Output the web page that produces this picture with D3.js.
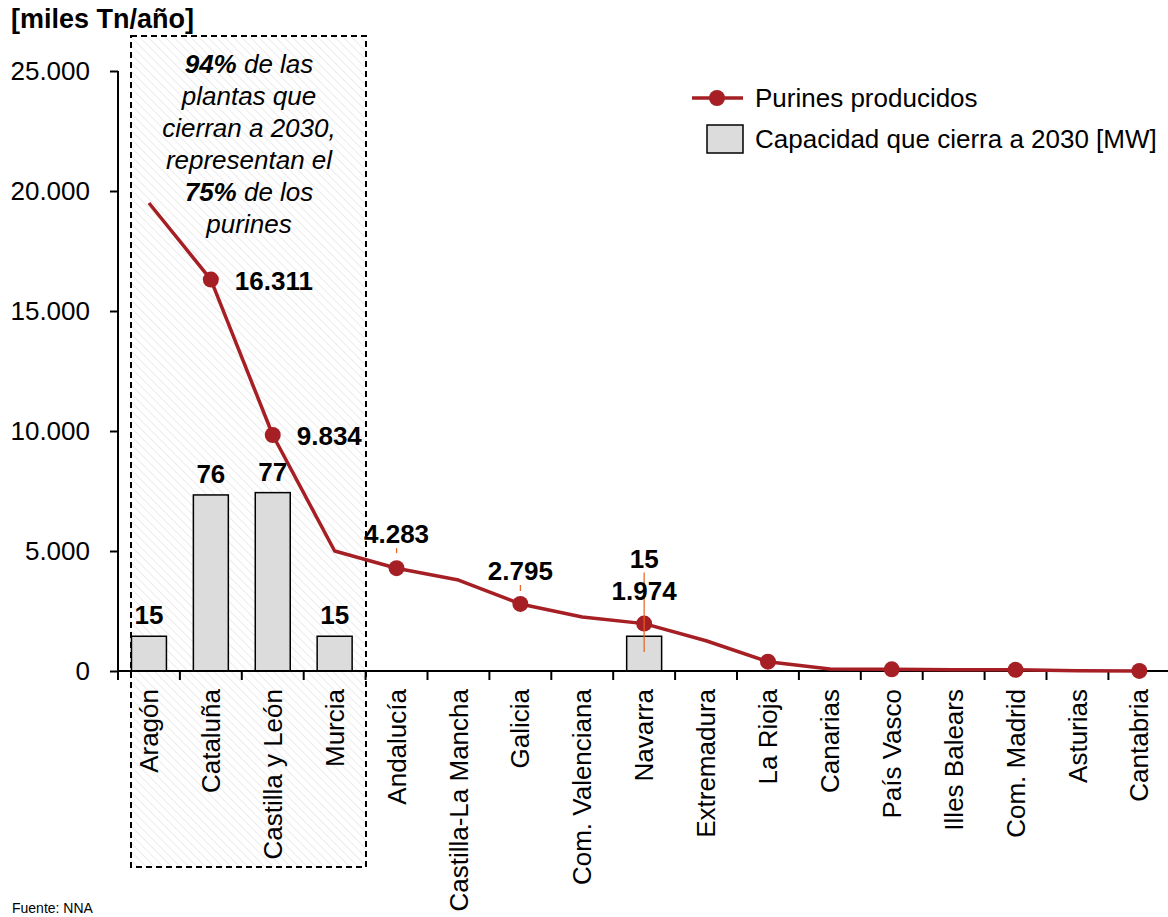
<!DOCTYPE html>
<html>
<head>
<meta charset="utf-8">
<title>Purines producidos</title>
<script src="https://cdn.jsdelivr.net/npm/d3@7"></script>
<style>
	body { margin: 0; background: #fff; }
	svg text { font-family: "Liberation Sans", Arial, sans-serif; fill: #000; }
</style>
</head>
<body>
<div id="chart"></div>
<script>
	// data
	var regiones = ['Aragón', 'Cataluña', 'Castilla y León', 'Murcia', 'Andalucía', 'Castilla-La Mancha',
		'Galicia', 'Com. Valenciana', 'Navarra', 'Extremadura', 'La Rioja', 'Canarias', 'País Vasco',
		'Illes Balears', 'Com. Madrid', 'Asturias', 'Cantabria'];
	var purines = [19500, 16311, 9834, 5000, 4283, 3790, 2795, 2250, 1974, 1260, 390, 80, 70, 50, 50, 15, 5];
	var capacidad = [15, 76, 77, 15, null, null, null, null, 15, null, null, null, null, null, null, null, null];
	var conMarcador = [false, true, true, false, true, false, true, false, true, false, true, false, true, false, true, false, true];
	var yTicks = [0, 5000, 10000, 15000, 20000, 25000];

	var width = 1168, height = 917;
	var es = d3.formatLocale({ decimal: ',', thousands: '.', grouping: [3], currency: ['', '€'] });
	var fmt = es.format(',d');
	var rojo = '#a51f24', naranja = '#e8601c';
	var fs = '26px';

	var svg = d3.select('#chart').append('svg')
		.attr('width', width)
		.attr('height', height);

	// hatch for the highlight box
	var pat = svg.append('defs').append('pattern')
		.attr('id', 'rayado')
		.attr('patternUnits', 'userSpaceOnUse')
		.attr('width', 6).attr('height', 6)
		.attr('patternTransform', 'rotate(-45)');
	pat.append('line')
		.attr('x1', 0).attr('y1', 0).attr('x2', 0).attr('y2', 6)
		.attr('stroke', '#ececec').attr('stroke-width', 2);

	var x = d3.scaleBand().domain(regiones).range([118, 118 + 17 * 61.9]);
	var y = d3.scaleLinear().domain([0, 25000]).range([671, 71]);
	var y2 = d3.scaleLinear().domain([0, 259]).range([671, 71]);
	var barW = x.bandwidth() * 0.565;
	var cx = function(d) { return x(d) + x.bandwidth() / 2; };

	// highlight box behind everything
	svg.append('rect')
		.attr('x', 131).attr('y', 36)
		.attr('width', 235).attr('height', 831)
		.attr('fill', 'url(#rayado)')
		.attr('stroke', '#000')
		.attr('stroke-width', 2)
		.attr('stroke-dasharray', '6,4');

	// bars
	svg.selectAll('rect.bar')
		.data(regiones.filter(function(d, i) { return capacidad[i] != null; }))
		.enter().append('rect')
		.attr('class', 'bar')
		.attr('x', function(d) { return cx(d) - barW / 2; })
		.attr('y', function(d) { return y2(capacidad[regiones.indexOf(d)]); })
		.attr('width', barW)
		.attr('height', function(d) { return y2(0) - y2(capacidad[regiones.indexOf(d)]); })
		.attr('fill', '#dcdcdc')
		.attr('stroke', '#000')
		.attr('stroke-width', 1.5);

	// y axis
	var yAxis = svg.append('g')
		.attr('transform', 'translate(118,0)')
		.call(d3.axisLeft(y).tickValues(yTicks).tickFormat(fmt).tickSize(8).tickPadding(20));
	yAxis.select('.domain').attr('stroke', '#000').attr('stroke-width', 2).attr('d', 'M0,71V671');
	yAxis.selectAll('.tick line').attr('stroke', '#000').attr('stroke-width', 2);
	yAxis.selectAll('.tick text')
		.style('font-family', '"Liberation Sans", Arial, sans-serif')
		.style('font-size', fs);

	// x axis: line and ticks at the band edges
	svg.append('line')
		.attr('x1', 118).attr('x2', width).attr('y1', 671).attr('y2', 671)
		.attr('stroke', '#000').attr('stroke-width', 2);
	svg.selectAll('line.xtick')
		.data(regiones)
		.enter().append('line')
		.attr('class', 'xtick')
		.attr('x1', function(d) { return x(d); })
		.attr('x2', function(d) { return x(d); })
		.attr('y1', 671).attr('y2', 680)
		.attr('stroke', '#000').attr('stroke-width', 2);

	svg.selectAll('text.xlab')
		.data(regiones)
		.enter().append('text')
		.attr('class', 'xlab')
		.attr('transform', function(d) { return 'translate(' + cx(d) + ',689) rotate(-90)'; })
		.attr('text-anchor', 'end')
		.attr('dy', '0.35em')
		.style('font-size', fs)
		.text(function(d) { return d; });

	// purines line
	var line = d3.line()
		.x(function(d, i) { return cx(regiones[i]); })
		.y(function(d) { return y(d); });
	svg.append('path')
		.datum(purines)
		.attr('d', line)
		.attr('fill', 'none')
		.attr('stroke', rojo)
		.attr('stroke-width', 3.5)
		.attr('stroke-linejoin', 'round');
	svg.selectAll('circle.pt')
		.data(regiones.filter(function(d, i) { return conMarcador[i]; }))
		.enter().append('circle')
		.attr('class', 'pt')
		.attr('cx', function(d) { return cx(d); })
		.attr('cy', function(d) { return y(purines[regiones.indexOf(d)]); })
		.attr('r', 8)
		.attr('fill', rojo);

	// leader lines
	function leader(reg, y1, y2v) {
		svg.append('line')
			.attr('x1', cx(reg)).attr('x2', cx(reg))
			.attr('y1', y1).attr('y2', y2v)
			.attr('stroke', naranja).attr('stroke-width', 1.2);
	}
	leader('Andalucía', y(4283) - 20, y(4283) - 15);
	leader('Galicia', y(2795) - 19, y(2795) - 13);
	leader('Navarra', y(1974) - 51, y2(0) - 19);

	// value labels
	function label(txt, px, py, anchor) {
		svg.append('text')
			.attr('x', px).attr('y', py)
			.attr('text-anchor', anchor || 'middle')
			.style('font-size', fs)
			.style('font-weight', 'bold')
			.text(txt);
	}
	capacidad.forEach(function(v, i) {
		if (v == null || regiones[i] === 'Navarra') return;
		label(v, cx(regiones[i]), y2(v) - 12);
	});
	label(fmt(purines[1]), cx(regiones[1]) + 24, y(purines[1]) + 10, 'start');
	label(fmt(purines[2]), cx(regiones[2]) + 24, y(purines[2]) + 10, 'start');
	label(fmt(purines[4]), cx(regiones[4]), y(purines[4]) - 25);
	label(fmt(purines[6]), cx(regiones[6]), y(purines[6]) - 24);
	label(capacidad[8], cx(regiones[8]), y(purines[8]) - 56);
	label(fmt(purines[8]), cx(regiones[8]), y(purines[8]) - 24);

	// annotation inside the box
	var nota = [
		[['94%', true], [' de las', false]],
		[['plantas que', false]],
		[['cierran a 2030,', false]],
		[['representan el', false]],
		[['75%', true], [' de los', false]],
		[['purines', false]]
	];
	nota.forEach(function(partes, i) {
		var t = svg.append('text')
			.attr('x', 249).attr('y', 73 + i * 32)
			.attr('text-anchor', 'middle')
			.style('font-size', fs)
			.style('font-style', 'italic');
		partes.forEach(function(p) {
			t.append('tspan').style('font-weight', p[1] ? 'bold' : 'normal').text(p[0]);
		});
	});

	// axis title
	svg.append('text')
		.attr('x', 11).attr('y', 28)
		.style('font-size', '27px')
		.style('font-weight', 'bold')
		.text('[miles Tn/año]');

	// legend
	var lg = svg.append('g');
	lg.append('line')
		.attr('x1', 692).attr('x2', 743).attr('y1', 98).attr('y2', 98)
		.attr('stroke', rojo).attr('stroke-width', 3.5);
	lg.append('circle').attr('cx', 717).attr('cy', 98).attr('r', 8).attr('fill', rojo);
	lg.append('text').attr('x', 755).attr('y', 107).style('font-size', fs).text('Purines producidos');
	lg.append('rect')
		.attr('x', 707).attr('y', 125).attr('width', 36).attr('height', 28)
		.attr('fill', '#dcdcdc').attr('stroke', '#000').attr('stroke-width', 1.5);
	lg.append('text').attr('x', 755).attr('y', 148).style('font-size', fs).text('Capacidad que cierra a 2030 [MW]');

	// source line at the bottom edge
	svg.append('text')
		.attr('x', 12).attr('y', 913)
		.style('font-size', '14px')
		.text('Fuente: NNA');
</script>
</body>
</html>
